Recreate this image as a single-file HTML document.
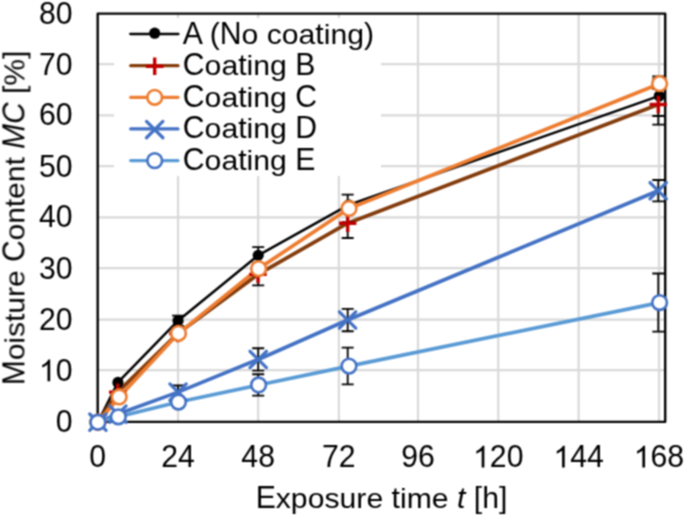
<!DOCTYPE html>
<html><head><meta charset="utf-8"><style>
html,body{margin:0;padding:0;background:#fff;width:685px;height:516px;overflow:hidden}
svg{display:block}
text{font-family:"Liberation Sans",sans-serif;fill:#000}
</style></head><body>
<svg width="685" height="516" viewBox="0 0 685 516">
<defs><filter id="soft" x="0" y="0" width="685" height="516" filterUnits="userSpaceOnUse" color-interpolation-filters="sRGB"><feConvolveMatrix order="3" kernelMatrix="1 2 1 2 4 2 1 2 1" divisor="16" edgeMode="duplicate"/></filter></defs>
<g filter="url(#soft)">
<rect width="685" height="516" fill="#fff"/>

<path d="M178.05 13.6V421.85 M258.16 13.6V421.85 M338.86 13.6V421.85 M418.0 13.6V421.85 M498.28 13.6V421.85 M578.67 13.6V421.85 M658.98 13.6V421.85 M97.7 64.05H665.2 M97.7 115.45H665.2 M97.7 166.05H665.2 M97.7 217.46H665.2 M97.7 268.05H665.2 M97.7 319.68H665.2 M97.7 370.2H665.2" stroke="#D9D9D9" stroke-width="2.2" fill="none"/>
<rect x="97.7" y="13.6" width="567.5" height="408.25" fill="none" stroke="#000" stroke-width="2.4" stroke-linejoin="round"/>
<polyline points="97.90,422.20 117.94,382.42 178.06,320.68 258.21,255.37 348.69,204.85 659.29,95.92" fill="none" stroke="#000000" stroke-width="2.5" stroke-linejoin="round" stroke-linecap="round"/>
<polyline points="97.90,422.20 117.74,392.12 177.86,333.44 258.01,274.35 347.69,223.22 658.29,104.49" fill="none" stroke="#843C0C" stroke-width="3.7" stroke-linejoin="round" stroke-linecap="round"/>
<polyline points="97.90,422.20 119.14,396.96 178.46,333.33 258.61,268.64 348.99,208.43 659.59,83.67" fill="none" stroke="#ED7D31" stroke-width="3.7" stroke-linejoin="round" stroke-linecap="round"/>
<polyline points="97.90,422.20 117.94,414.06 178.06,392.12 258.21,359.46 347.58,320.02 658.19,190.72" fill="none" stroke="#4472C4" stroke-width="3.7" stroke-linejoin="round" stroke-linecap="round"/>
<polyline points="97.90,422.20 118.34,416.81 178.46,402.01 258.61,384.97 348.99,366.09 659.59,302.57" fill="none" stroke="#5B9BD5" stroke-width="3.7" stroke-linejoin="round" stroke-linecap="round"/>
<path d="M178.06 315.58V325.78M172.06 315.58H184.06M172.06 325.78H184.06 M258.21 247.20V263.53M252.21 247.20H264.21M252.21 263.53H264.21 M658.29 76.42V116.02M652.29 76.42H664.29M652.29 116.02H664.29 M178.06 328.33V338.54M172.06 328.33H184.06M172.06 338.54H184.06 M258.21 263.38V285.32M252.21 263.38H264.21M252.21 285.32H264.21 M347.69 208.43V238.02M341.69 208.43H353.69M341.69 238.02H353.69 M658.29 84.33V124.64M652.29 84.33H664.29M652.29 124.64H664.29 M178.06 329.25V337.42M172.06 329.25H184.06M172.06 337.42H184.06 M258.21 263.53V273.74M252.21 263.53H264.21M252.21 273.74H264.21 M347.69 194.65V222.20M341.69 194.65H353.69M341.69 222.20H353.69 M658.29 78.57V88.77M652.29 78.57H664.29M652.29 88.77H664.29 M178.06 385.48V398.75M172.06 385.48H184.06M172.06 398.75H184.06 M258.21 348.23V370.69M252.21 348.23H264.21M252.21 370.69H264.21 M347.69 308.79V331.24M341.69 308.79H353.69M341.69 331.24H353.69 M658.29 180.00V201.44M652.29 180.00H664.29M652.29 201.44H664.29 M178.06 396.91V407.12M172.06 396.91H184.06M172.06 407.12H184.06 M258.21 374.26V395.69M252.21 374.26H264.21M252.21 395.69H264.21 M347.69 347.72V384.46M341.69 347.72H353.69M341.69 384.46H353.69 M658.29 273.48V331.65M652.29 273.48H664.29M652.29 331.65H664.29" stroke="#000" stroke-width="1.8" fill="none"/>
<circle cx="97.90" cy="422.20" r="5.6" fill="#000"/>
<circle cx="117.94" cy="382.42" r="5.6" fill="#000"/>
<circle cx="178.06" cy="320.68" r="5.6" fill="#000"/>
<circle cx="258.21" cy="255.37" r="5.6" fill="#000"/>
<circle cx="348.69" cy="204.85" r="5.6" fill="#000"/>
<circle cx="659.29" cy="95.92" r="5.6" fill="#000"/>
<path d="M89.20 422.20H106.60M97.90 413.50V430.90" stroke="#C00000" stroke-width="3.4" fill="none"/>
<path d="M109.04 392.12H126.44M117.74 383.42V400.82" stroke="#C00000" stroke-width="3.4" fill="none"/>
<path d="M169.16 333.44H186.56M177.86 324.74V342.14" stroke="#C00000" stroke-width="3.4" fill="none"/>
<path d="M249.31 274.35H266.71M258.01 265.65V283.05" stroke="#C00000" stroke-width="3.4" fill="none"/>
<path d="M338.99 223.22H356.38M347.69 214.52V231.92" stroke="#C00000" stroke-width="3.4" fill="none"/>
<path d="M649.59 104.49H666.99M658.29 95.79V113.19" stroke="#C00000" stroke-width="3.4" fill="none"/>
<circle cx="97.90" cy="422.20" r="7.35" fill="#fff" stroke="#ED7D31" stroke-width="2.6"/>
<circle cx="119.14" cy="396.96" r="7.35" fill="#fff" stroke="#ED7D31" stroke-width="2.6"/>
<circle cx="178.46" cy="333.33" r="7.35" fill="#fff" stroke="#ED7D31" stroke-width="2.6"/>
<circle cx="258.61" cy="268.64" r="7.35" fill="#fff" stroke="#ED7D31" stroke-width="2.6"/>
<circle cx="348.99" cy="208.43" r="7.35" fill="#fff" stroke="#ED7D31" stroke-width="2.6"/>
<circle cx="659.59" cy="83.67" r="7.35" fill="#fff" stroke="#ED7D31" stroke-width="2.6"/>
<path d="M89.70 414.00L106.10 430.40M106.10 414.00L89.70 430.40" stroke="#4472C4" stroke-width="3.2" stroke-linecap="round" fill="none"/>
<path d="M109.74 405.86L126.14 422.26M126.14 405.86L109.74 422.26" stroke="#4472C4" stroke-width="3.2" stroke-linecap="round" fill="none"/>
<path d="M169.86 383.92L186.26 400.32M186.26 383.92L169.86 400.32" stroke="#4472C4" stroke-width="3.2" stroke-linecap="round" fill="none"/>
<path d="M250.01 351.26L266.41 367.66M266.41 351.26L250.01 367.66" stroke="#4472C4" stroke-width="3.2" stroke-linecap="round" fill="none"/>
<path d="M339.38 311.82L355.78 328.22M355.78 311.82L339.38 328.22" stroke="#4472C4" stroke-width="3.2" stroke-linecap="round" fill="none"/>
<path d="M649.99 182.52L666.39 198.92M666.39 182.52L649.99 198.92" stroke="#4472C4" stroke-width="3.2" stroke-linecap="round" fill="none"/>
<circle cx="97.90" cy="422.20" r="7.35" fill="#fff" stroke="#4472C4" stroke-width="2.6"/>
<circle cx="118.34" cy="416.81" r="7.35" fill="#fff" stroke="#4472C4" stroke-width="2.6"/>
<circle cx="178.46" cy="402.01" r="7.35" fill="#fff" stroke="#4472C4" stroke-width="2.6"/>
<circle cx="258.61" cy="384.97" r="7.35" fill="#fff" stroke="#4472C4" stroke-width="2.6"/>
<circle cx="348.99" cy="366.09" r="7.35" fill="#fff" stroke="#4472C4" stroke-width="2.6"/>
<circle cx="659.59" cy="302.57" r="7.35" fill="#fff" stroke="#4472C4" stroke-width="2.6"/>
<rect x="114" y="18" width="267" height="158" fill="#fff"/>
<line x1="130.25" y1="34.00" x2="178.45" y2="34.00" stroke="#000000" stroke-width="2.3" stroke-linecap="round"/>
<circle cx="154.70" cy="33.20" r="5.6" fill="#000"/>
<line x1="130.70" y1="65.65" x2="178.00" y2="65.65" stroke="#843C0C" stroke-width="3.2" stroke-linecap="round"/>
<path d="M145.90 66.25H163.50M154.70 57.45V75.05" stroke="#C00000" stroke-width="3.4" fill="none"/>
<line x1="130.70" y1="97.30" x2="178.00" y2="97.30" stroke="#ED7D31" stroke-width="3.2" stroke-linecap="round"/>
<circle cx="154.70" cy="97.30" r="7.35" fill="#fff" stroke="#ED7D31" stroke-width="2.6"/>
<line x1="130.70" y1="128.95" x2="178.00" y2="128.95" stroke="#4472C4" stroke-width="3.2" stroke-linecap="round"/>
<path d="M146.50 121.35L162.90 137.75M162.90 121.35L146.50 137.75" stroke="#4472C4" stroke-width="3.2" stroke-linecap="round" fill="none"/>
<line x1="130.70" y1="160.60" x2="178.00" y2="160.60" stroke="#5B9BD5" stroke-width="3.2" stroke-linecap="round"/>
<circle cx="154.70" cy="160.60" r="7.35" fill="#fff" stroke="#4472C4" stroke-width="2.6"/>
<g transform="translate(182.80 43.50)"><text transform="translate(0.00 0) scale(1 1.03)" font-size="30.2">A</text><text transform="translate(26.84 0) scale(1 0.965)" font-size="30.2">(</text><text transform="translate(36.91 0) scale(1 1.03)" font-size="30.2">N</text><text transform="translate(58.70 0) scale(1 0.925)" font-size="30.2">o</text><text transform="translate(83.88 0) scale(1 0.925)" font-size="30.2">coa</text><text transform="translate(132.55 0) scale(1 0.95)" font-size="30.2">t</text><text transform="translate(140.94 0) scale(1 0.93)" font-size="30.2">i</text><text transform="translate(147.64 0) scale(1 0.925)" font-size="30.2">ng</text><text transform="translate(181.22 0) scale(1 0.965)" font-size="30.2">)</text></g>
<g transform="translate(182.80 75.15)"><text transform="translate(0.00 0) scale(1 1.03)" font-size="30.2">C</text><text transform="translate(21.80 0) scale(1 0.925)" font-size="30.2">oa</text><text transform="translate(55.38 0) scale(1 0.95)" font-size="30.2">t</text><text transform="translate(63.75 0) scale(1 0.93)" font-size="30.2">i</text><text transform="translate(70.47 0) scale(1 0.925)" font-size="30.2">ng</text><text transform="translate(112.42 0) scale(1 1.03)" font-size="30.2">B</text></g>
<g transform="translate(182.80 106.80)"><text transform="translate(0.00 0) scale(1 1.03)" font-size="30.2">C</text><text transform="translate(21.80 0) scale(1 0.925)" font-size="30.2">oa</text><text transform="translate(55.38 0) scale(1 0.95)" font-size="30.2">t</text><text transform="translate(63.75 0) scale(1 0.93)" font-size="30.2">i</text><text transform="translate(70.47 0) scale(1 0.925)" font-size="30.2">ng</text><text transform="translate(112.42 0) scale(1 1.03)" font-size="30.2">C</text></g>
<g transform="translate(182.80 138.45)"><text transform="translate(0.00 0) scale(1 1.03)" font-size="30.2">C</text><text transform="translate(21.80 0) scale(1 0.925)" font-size="30.2">oa</text><text transform="translate(55.38 0) scale(1 0.95)" font-size="30.2">t</text><text transform="translate(63.75 0) scale(1 0.93)" font-size="30.2">i</text><text transform="translate(70.47 0) scale(1 0.925)" font-size="30.2">ng</text><text transform="translate(112.42 0) scale(1 1.03)" font-size="30.2">D</text></g>
<g transform="translate(182.80 170.10)"><text transform="translate(0.00 0) scale(1 1.03)" font-size="30.2">C</text><text transform="translate(21.80 0) scale(1 0.925)" font-size="30.2">oa</text><text transform="translate(55.38 0) scale(1 0.95)" font-size="30.2">t</text><text transform="translate(63.75 0) scale(1 0.93)" font-size="30.2">i</text><text transform="translate(70.47 0) scale(1 0.925)" font-size="30.2">ng</text><text transform="translate(112.42 0) scale(1 1.03)" font-size="30.2">E</text></g>
<g transform="translate(72.50 431.65)"><text transform="translate(-16.80 0) scale(1 1.03)" font-size="30.2">0</text></g>
<g transform="translate(72.50 381.25)"><path transform="translate(-33.58 0) scale(0.01475 -0.01475)" d="M763 0H583V1147Q518 1085 412 1023Q306 961 223 930V1104Q374 1175 487 1276Q600 1377 647 1472H763Z"/><text transform="translate(-16.80 0) scale(1 1.03)" font-size="30.2">0</text></g>
<g transform="translate(72.50 329.55)"><text transform="translate(-33.58 0) scale(1 1.03)" font-size="30.2">20</text></g>
<g transform="translate(72.50 278.95)"><text transform="translate(-33.58 0) scale(1 1.03)" font-size="30.2">30</text></g>
<g transform="translate(72.50 227.45)"><text transform="translate(-33.58 0) scale(1 1.03)" font-size="30.2">40</text></g>
<g transform="translate(72.50 176.95)"><text transform="translate(-33.58 0) scale(1 1.03)" font-size="30.2">50</text></g>
<g transform="translate(72.50 125.35)"><text transform="translate(-33.58 0) scale(1 1.03)" font-size="30.2">60</text></g>
<g transform="translate(72.50 74.95)"><text transform="translate(-33.58 0) scale(1 1.03)" font-size="30.2">70</text></g>
<g transform="translate(72.50 23.75)"><text transform="translate(-33.58 0) scale(1 1.03)" font-size="30.2">80</text></g>
<g transform="translate(97.70 467.40)"><text transform="translate(-8.40 0) scale(1 1.03)" font-size="30.2">0</text></g>
<g transform="translate(178.05 467.40)"><text transform="translate(-16.79 0) scale(1 1.03)" font-size="30.2">24</text></g>
<g transform="translate(258.16 467.40)"><text transform="translate(-16.79 0) scale(1 1.03)" font-size="30.2">48</text></g>
<g transform="translate(338.86 467.40)"><text transform="translate(-16.79 0) scale(1 1.03)" font-size="30.2">72</text></g>
<g transform="translate(418.00 467.40)"><text transform="translate(-16.79 0) scale(1 1.03)" font-size="30.2">96</text></g>
<g transform="translate(498.28 467.40)"><path transform="translate(-25.19 0) scale(0.01475 -0.01475)" d="M763 0H583V1147Q518 1085 412 1023Q306 961 223 930V1104Q374 1175 487 1276Q600 1377 647 1472H763Z"/><text transform="translate(-8.41 0) scale(1 1.03)" font-size="30.2">20</text></g>
<g transform="translate(578.67 467.40)"><path transform="translate(-25.19 0) scale(0.01475 -0.01475)" d="M763 0H583V1147Q518 1085 412 1023Q306 961 223 930V1104Q374 1175 487 1276Q600 1377 647 1472H763Z"/><text transform="translate(-8.41 0) scale(1 1.03)" font-size="30.2">44</text></g>
<g transform="translate(658.98 467.40)"><path transform="translate(-25.19 0) scale(0.01475 -0.01475)" d="M763 0H583V1147Q518 1085 412 1023Q306 961 223 930V1104Q374 1175 487 1276Q600 1377 647 1472H763Z"/><text transform="translate(-8.41 0) scale(1 1.03)" font-size="30.2">68</text></g>
<g transform="translate(381.50 507.90)"><text transform="translate(-125.84 0) scale(1 1.03)" font-size="30.2">E</text><text transform="translate(-105.72 0) scale(1 0.925)" font-size="30.2">xposure</text><text transform="translate(10.06 0) scale(1 0.95)" font-size="30.2">t</text><text transform="translate(18.45 0) scale(1 0.93)" font-size="30.2">i</text><text transform="translate(25.16 0) scale(1 0.925)" font-size="30.2">me</text><text transform="translate(75.50 0) scale(1 0.99)" font-size="30.2" font-style="italic">t</text><text transform="translate(92.27 0) scale(1 0.965)" font-size="30.2">[</text><text transform="translate(100.66 0) scale(1 0.958)" font-size="30.2">h</text><text transform="translate(117.45 0) scale(1 0.965)" font-size="30.2">]</text></g>
<g transform="translate(24.40 217.90) rotate(-90)"><text transform="translate(-167.22 0) scale(1 1.03)" font-size="29.95">M</text><text transform="translate(-142.28 0) scale(1 0.925)" font-size="29.95">o</text><text transform="translate(-125.64 0) scale(1 0.93)" font-size="29.95">i</text><text transform="translate(-118.98 0) scale(1 0.925)" font-size="29.95">s</text><text transform="translate(-104.02 0) scale(1 0.95)" font-size="29.95">t</text><text transform="translate(-95.70 0) scale(1 0.925)" font-size="29.95">ure</text><text transform="translate(-44.11 0) scale(1 1.03)" font-size="29.95">C</text><text transform="translate(-22.50 0) scale(1 0.925)" font-size="29.95">on</text><text transform="translate(10.81 0) scale(1 0.95)" font-size="29.95">t</text><text transform="translate(19.12 0) scale(1 0.925)" font-size="29.95">en</text><text transform="translate(52.42 0) scale(1 0.95)" font-size="29.95">t</text><text transform="translate(69.08 0) scale(1 1.03)" font-size="29.95" font-style="italic">MC</text><text transform="translate(123.95 0) scale(1 0.965)" font-size="29.95">[</text><text transform="translate(132.27 0) scale(1 1.0)" font-size="29.95">%</text><text transform="translate(158.89 0) scale(1 0.965)" font-size="29.95">]</text></g>
</g></svg></body></html>
